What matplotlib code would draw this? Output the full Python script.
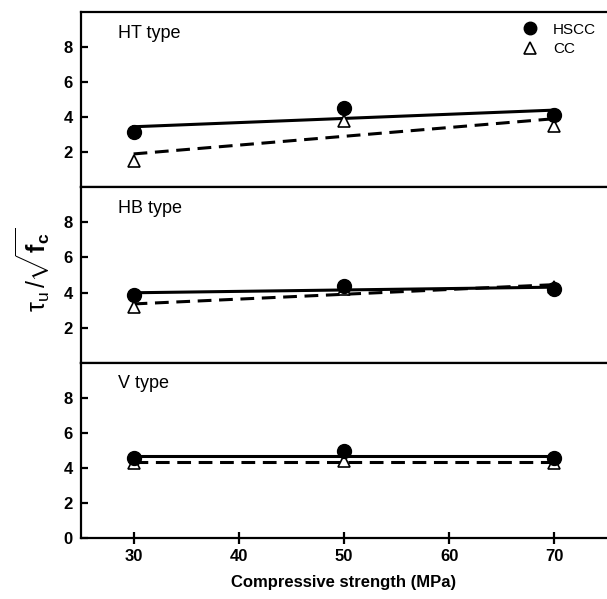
import numpy as np
import matplotlib
matplotlib.use("Agg")
import matplotlib.pyplot as plt
from matplotlib.lines import Line2D

plt.rcParams['font.family'] = ['Liberation Sans', 'DejaVu Sans']
plt.rcParams['mathtext.fontset'] = 'custom'
plt.rcParams['mathtext.rm'] = 'Liberation Sans'
plt.rcParams['mathtext.it'] = 'Liberation Sans:italic'
plt.rcParams['mathtext.bf'] = 'Liberation Sans:bold'

strength = [30, 50, 70]
panels = ["HT type", "HB type", "V type"]
hscc = {
    "HT type": [3.17, 4.5, 4.12],
    "HB type": [3.87, 4.38, 4.19],
    "V type": [4.57, 4.95, 4.57],
}
cc = {
    "HT type": [1.48, 3.76, 3.49],
    "HB type": [3.2, 4.2, 4.3],
    "V type": [4.3, 4.4, 4.3],
}
xticks = [30, 40, 50, 60, 70]

fig = plt.figure(figsize=(6.07, 5.99), dpi=100)
gs = fig.add_gridspec(3, 1, left=81/607, right=1.0, bottom=1-538/599, top=1-12/599, hspace=0)
axes = [fig.add_subplot(gs[i]) for i in range(3)]

for i, (ax, name) in enumerate(zip(axes, panels)):
    x = np.array(strength, dtype=float)
    yh = np.array(hscc[name])
    yc = np.array(cc[name])
    ph = np.polyfit(x, yh, 1)
    pc = np.polyfit(x, yc, 1)
    xl = np.array([30, 70])
    ax.plot(xl, np.polyval(ph, xl), color='black', lw=2.2, zorder=2)
    ax.plot(xl, np.polyval(pc, xl), color='black', lw=2.2, ls=(0, (4.5, 2.5)), zorder=2)
    ax.plot(x, yc, ls='none', marker='^', ms=9, mfc='white', mec='black', mew=1.2, zorder=3)
    ax.plot(x, yh, ls='none', marker='o', ms=10, mfc='black', mec='black', zorder=4)
    ax.set_xlim(25, 75)
    ax.set_ylim(0, 10)
    ax.spines['right'].set_visible(False)
    for s in ['top', 'bottom', 'left']:
        ax.spines[s].set_linewidth(1.6)
    if i < 2:
        ax.set_yticks([2, 4, 6, 8])
        ax.tick_params(axis='x', bottom=False, labelbottom=False)
    else:
        ax.set_yticks([0, 2, 4, 6, 8])
        ax.set_xticks(xticks)
        ax.tick_params(axis='x', direction='inout', length=8, width=1.6, labelsize=12, pad=4)
        for lab in ax.get_xticklabels():
            lab.set_fontweight('bold')
        ax.set_xlabel("Compressive strength (MPa)", fontsize=12, fontweight='bold', labelpad=8)
    ax.tick_params(axis='y', direction='in', length=5, width=1.6, labelsize=12, pad=6)
    for lab in ax.get_yticklabels():
        lab.set_fontweight('bold')
    ax.text(0.07, 0.88, name, transform=ax.transAxes, fontsize=13, va='center', ha='left')

handles = [
    Line2D([], [], ls='none', marker='o', ms=9, mfc='black', mec='black'),
    Line2D([], [], ls='none', marker='^', ms=8, mfc='white', mec='black', mew=1.2),
]
leg = axes[0].legend(handles, ["HSCC", "CC"], loc='upper right', bbox_to_anchor=(1.0, 1.0),
                     frameon=False, fontsize=11, handletextpad=0.9, labelspacing=0.35,
                     borderaxespad=0.3, handlelength=1.2)

fig.text(0.055, 0.55, r'$\mathrm{\tau_u}\,/\sqrt{\mathbf{f}_\mathbf{c}}$', rotation=90,
         fontsize=18, ha='center', va='center')

fig.savefig("out.png", dpi=100)
